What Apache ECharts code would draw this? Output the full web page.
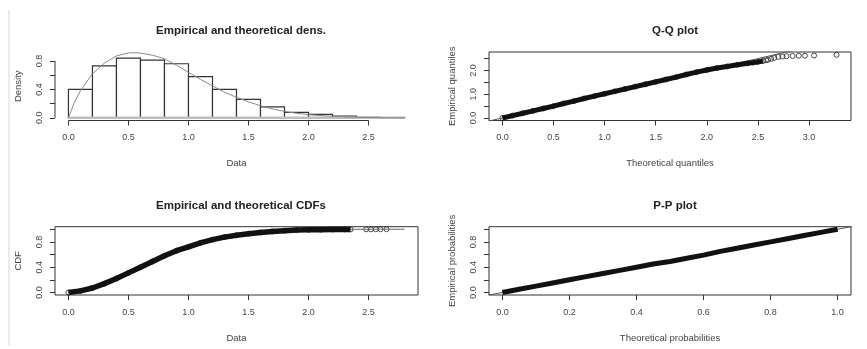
<!DOCTYPE html>
<html>
<head>
<meta charset="utf-8">
<script src="https://cdn.jsdelivr.net/npm/echarts@6/dist/echarts.min.js"></script>
<style>
  html, body { margin: 0; padding: 0; background: #fff; }
  #chart { width: 867px; height: 349px; }
</style>
</head>
<body>
<div id="chart"></div>
<script>
// --- histogram (top left) ---
const histBreaks = [0, 0.2, 0.4, 0.6, 0.8, 1.0, 1.2, 1.4, 1.6, 1.8, 2.0, 2.2, 2.4, 2.6, 2.8];
const histDensity = [0.40, 0.73, 0.84, 0.81, 0.76, 0.58, 0.40, 0.26, 0.155, 0.076, 0.048, 0.024, 0.008, 0.004];
const densX = [0, 0.05, 0.1, 0.2, 0.3, 0.4, 0.5, 0.55, 0.6, 0.7, 0.8, 0.9, 1.0, 1.1, 1.2, 1.3, 1.4, 1.5, 1.6, 1.7, 1.8, 1.9, 2.0, 2.2, 2.4, 2.6, 2.8];
const densY = [0, 0.22, 0.38, 0.62, 0.77, 0.87, 0.912, 0.915, 0.91, 0.88, 0.83, 0.74, 0.64, 0.54, 0.45, 0.36, 0.29, 0.225, 0.17, 0.125, 0.09, 0.065, 0.045, 0.02, 0.008, 0.003, 0.001];
const histXTicks = [0, 0.5, 1.0, 1.5, 2.0, 2.5];
const histYTicks = [0, 0.2, 0.4, 0.6, 0.8];
const histYLabels = [0, 0.4, 0.8];

// --- Q-Q plot (top right) ---
const qqBandX = [0, 0.1, 0.2, 0.3, 0.4, 0.5, 0.6, 0.7, 0.8, 0.9, 1.0, 1.1, 1.2, 1.3, 1.4, 1.5, 1.6, 1.7, 1.8, 1.9, 2.0, 2.1, 2.2, 2.3, 2.4, 2.45, 2.5, 2.55];
const qqBandY = [0, 0.1, 0.2, 0.3, 0.4, 0.5, 0.61, 0.71, 0.82, 0.92, 1.02, 1.12, 1.22, 1.32, 1.42, 1.52, 1.62, 1.72, 1.83, 1.93, 2.02, 2.1, 2.17, 2.24, 2.3, 2.33, 2.36, 2.4];
const qqTailX = [2.58, 2.6, 2.63, 2.66, 2.7, 2.74, 2.78, 2.84, 2.9, 2.96, 3.05, 3.27];
const qqTailY = [2.43, 2.45, 2.49, 2.53, 2.57, 2.59, 2.6, 2.61, 2.62, 2.62, 2.63, 2.66];
const qqXTicks = [0, 0.5, 1.0, 1.5, 2.0, 2.5, 3.0];
const qqYTicks = [0, 0.5, 1.0, 1.5, 2.0, 2.5];
const qqYLabels = [0, 1.0, 2.0];

// --- CDF (bottom left) ---
const cdfTheoX = [0, 0.1, 0.2, 0.3, 0.4, 0.5, 0.6, 0.7, 0.8, 0.9, 1.0, 1.1, 1.2, 1.3, 1.4, 1.5, 1.6, 1.7, 1.8, 1.9, 2.0, 2.2, 2.4, 2.6, 2.8];
const cdfTheoY = [0, 0.019, 0.069, 0.139, 0.221, 0.31, 0.402, 0.492, 0.578, 0.657, 0.726, 0.785, 0.834, 0.875, 0.907, 0.933, 0.953, 0.968, 0.978, 0.986, 0.991, 0.997, 0.999, 1.0, 1.0];
const cdfEmpX = [0, 0.1, 0.2, 0.3, 0.4, 0.5, 0.6, 0.7, 0.8, 0.9, 1.0, 1.1, 1.2, 1.3, 1.4, 1.5, 1.6, 1.7, 1.8, 1.9, 2.0, 2.1, 2.2, 2.3, 2.35];
const cdfEmpY = [0, 0.025, 0.07, 0.14, 0.22, 0.31, 0.4, 0.49, 0.58, 0.66, 0.72, 0.785, 0.835, 0.875, 0.905, 0.93, 0.95, 0.965, 0.977, 0.986, 0.99, 0.993, 0.995, 0.997, 0.997];
const cdfTailX = [2.48, 2.52, 2.56, 2.6, 2.65];
const cdfTailY = [0.998, 0.998, 0.999, 0.999, 1.0];
const cdfXTicks = [0, 0.5, 1.0, 1.5, 2.0, 2.5];
const cdfYTicks = [0, 0.2, 0.4, 0.6, 0.8, 1.0];
const cdfYLabels = [0, 0.4, 0.8];

// --- P-P plot (bottom right) ---
const ppX = [0, 0.05, 0.1, 0.15, 0.2, 0.25, 0.3, 0.35, 0.4, 0.45, 0.5, 0.55, 0.6, 0.65, 0.7, 0.75, 0.8, 0.85, 0.9, 0.95, 1.0];
const ppY = [0, 0.05, 0.1, 0.15, 0.2, 0.25, 0.3, 0.35, 0.4, 0.45, 0.49, 0.54, 0.59, 0.65, 0.7, 0.75, 0.8, 0.85, 0.9, 0.95, 1.0];
const ppTicks = [0, 0.2, 0.4, 0.6, 0.8, 1.0];
const ppYLabels = [0, 0.4, 0.8];

const FONT = 'Liberation Sans, Arial, sans-serif';
const zip = (xs, ys) => xs.map((x, i) => [x, ys[i]]);
const fmt = v => v.toFixed(1);

function xAx(gi, min, max, ticks, name) {
  return {
    type: 'value', gridIndex: gi, min, max,
    axisLine: { show: false, onZero: false },
    axisTick: { show: true, length: 5, customValues: ticks, lineStyle: { color: '#333' } },
    axisLabel: { customValues: ticks, formatter: fmt, fontSize: 9, color: '#444', margin: 13, fontFamily: FONT },
    splitLine: { show: false },
    name, nameLocation: 'middle', nameGap: 38,
    nameTextStyle: { fontSize: 9.5, color: '#444', fontFamily: FONT }
  };
}
function yAx(gi, min, max, ticks, labels, name) {
  return {
    type: 'value', gridIndex: gi, min, max,
    axisLine: { show: false, onZero: false },
    axisTick: { show: true, length: 5, customValues: ticks, lineStyle: { color: '#333' } },
    axisLabel: { customValues: labels, formatter: fmt, fontSize: 9, color: '#444', margin: 11, rotate: 90, fontFamily: FONT },
    splitLine: { show: false },
    name, nameLocation: 'middle', nameGap: 32,
    nameTextStyle: { fontSize: 9.5, color: '#444', fontFamily: FONT }
  };
}

const histMin = -0.037;
const histXMin = -0.112;
const chart = echarts.init(document.getElementById('chart'), null, { renderer: 'canvas' });
chart.setOption({
  animation: false,
  backgroundColor: '#fff',
  title: [
    { text: 'Empirical and theoretical dens.', left: 236, top: 20, textAlign: 'center' },
    { text: 'Q-Q plot', left: 670, top: 20, textAlign: 'center' },
    { text: 'Empirical and theoretical CDFs', left: 236, top: 195, textAlign: 'center' },
    { text: 'P-P plot', left: 670, top: 195, textAlign: 'center' }
  ].map(t => Object.assign(t, { textStyle: { fontSize: 11.5, fontWeight: 'bold', color: '#222', fontFamily: FONT } })),
  grid: [
    { left: 55, top: 52, width: 363, height: 68.5, show: false },
    { left: 489, top: 52, width: 362, height: 68.5, show: true, borderColor: '#333', borderWidth: 1 },
    { left: 55, top: 226.7, width: 363, height: 68.3, show: true, borderColor: '#333', borderWidth: 1 },
    { left: 489, top: 226.7, width: 362, height: 68.3, show: true, borderColor: '#333', borderWidth: 1 }
  ],
  xAxis: [
    xAx(0, histXMin, 2.912, histXTicks, 'Data'),
    xAx(1, -0.131, 3.411, qqXTicks, 'Theoretical quantiles'),
    xAx(2, -0.112, 2.912, cdfXTicks, 'Data'),
    xAx(3, -0.04, 1.04, ppTicks, 'Theoretical probabilities')
  ],
  yAxis: [
    yAx(0, histMin, 0.925, histYTicks, histYLabels, 'Density'),
    yAx(1, -0.107, 2.777, qqYTicks, qqYLabels, 'Empirical quantiles'),
    yAx(2, -0.04, 1.04, cdfYTicks, cdfYLabels, 'CDF'),
    yAx(3, -0.04, 1.04, ppTicks, ppYLabels, 'Empirical probabilities')
  ],
  graphic: [
    { type: 'line', shape: { x1: 9, y1: 10, x2: 9, y2: 345 }, style: { stroke: '#d4d4d4', lineWidth: 1 } }
  ],
  series: [
    // histogram bars
    {
      type: 'custom', xAxisIndex: 0, yAxisIndex: 0,
      data: histDensity.map((d, i) => [histBreaks[i], histBreaks[i + 1], d]),
      renderItem: (params, api) => {
        const p0 = api.coord([api.value(0), api.value(2)]);
        const p1 = api.coord([api.value(1), 0]);
        return {
          type: 'rect',
          shape: { x: p0[0], y: p0[1], width: p1[0] - p0[0], height: p1[1] - p0[1] },
          style: { fill: '#fff', stroke: '#333', lineWidth: 1.2 }
        };
      }
    },
    // gray baseline under the bars
    {
      type: 'line', xAxisIndex: 0, yAxisIndex: 0, symbol: 'none', silent: true,
      data: [[histBreaks[0], 0], [histBreaks[histBreaks.length - 1], 0]],
      lineStyle: { color: '#bdbdbd', width: 2.5 }, z: 3
    },
    // theoretical density
    {
      type: 'line', xAxisIndex: 0, yAxisIndex: 0, symbol: 'none',
      data: zip(densX, densY), lineStyle: { color: '#8a8a8a', width: 1 }, z: 4
    },
    // histogram axis lines, first to last tick
    {
      type: 'line', xAxisIndex: 0, yAxisIndex: 0, symbol: 'none', clip: false,
      data: [[histXTicks[0], histMin], [histXTicks[histXTicks.length - 1], histMin]],
      lineStyle: { color: '#333', width: 1 }
    },
    {
      type: 'line', xAxisIndex: 0, yAxisIndex: 0, symbol: 'none', clip: false,
      data: [[histXMin, histYTicks[0]], [histXMin, histYTicks[histYTicks.length - 1]]],
      lineStyle: { color: '#333', width: 1 }
    },
    // Q-Q reference line
    {
      type: 'line', xAxisIndex: 1, yAxisIndex: 1, symbol: 'none',
      data: [[-0.2, -0.2], [3.5, 3.5]], lineStyle: { color: '#555', width: 1 }
    },
    {
      type: 'line', xAxisIndex: 1, yAxisIndex: 1, symbol: 'none',
      data: zip(qqBandX, qqBandY), lineStyle: { color: '#111', width: 5 }
    },
    {
      type: 'scatter', xAxisIndex: 1, yAxisIndex: 1, symbol: 'circle', symbolSize: 5,
      data: zip(qqBandX, qqBandY).concat(zip(qqTailX, qqTailY)),
      itemStyle: { color: 'rgba(0,0,0,0)', borderColor: '#222', borderWidth: 1 }
    },
    // CDF
    {
      type: 'line', xAxisIndex: 2, yAxisIndex: 2, symbol: 'none',
      data: zip(cdfTheoX, cdfTheoY), lineStyle: { color: '#666', width: 1 }
    },
    {
      type: 'line', xAxisIndex: 2, yAxisIndex: 2, symbol: 'none',
      data: zip(cdfEmpX, cdfEmpY), lineStyle: { color: '#111', width: 5.5 }
    },
    {
      type: 'scatter', xAxisIndex: 2, yAxisIndex: 2, symbol: 'circle', symbolSize: 5,
      data: zip(cdfEmpX, cdfEmpY).concat(zip(cdfTailX, cdfTailY)),
      itemStyle: { color: 'rgba(0,0,0,0)', borderColor: '#222', borderWidth: 1 }
    },
    // P-P
    {
      type: 'line', xAxisIndex: 3, yAxisIndex: 3, symbol: 'none',
      data: [[-0.1, -0.1], [1.1, 1.1]], lineStyle: { color: '#555', width: 1 }
    },
    {
      type: 'line', xAxisIndex: 3, yAxisIndex: 3, symbol: 'none',
      data: zip(ppX, ppY), lineStyle: { color: '#111', width: 5 }
    }
  ]
});
</script>
</body>
</html>
